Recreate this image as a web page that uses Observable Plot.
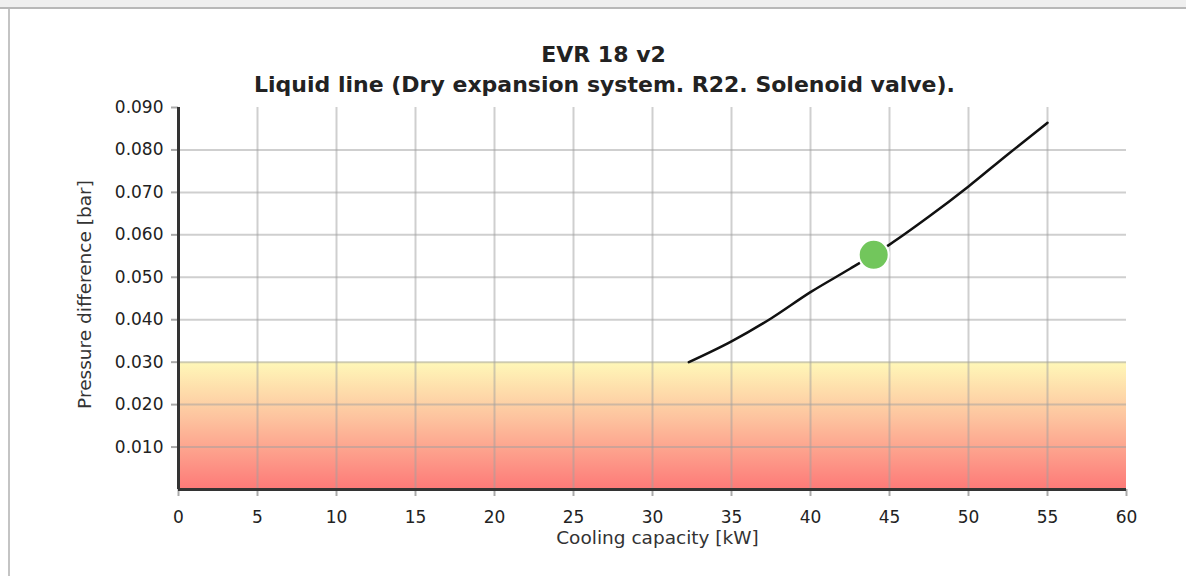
<!DOCTYPE html>
<html><head><meta charset="utf-8">
<script src="https://cdn.jsdelivr.net/npm/d3@7"></script>
<script src="https://cdn.jsdelivr.net/npm/@observablehq/plot@0.6"></script>
<style>
html,body{margin:0;padding:0;background:#fff;width:1186px;height:576px;overflow:hidden;font-family:"DejaVu Sans",Verdana,sans-serif}
#wrap{position:relative;width:1186px;height:576px}
#topbar{position:absolute;left:0;top:0;width:1186px;height:7px;background:#efefef;border-bottom:2px solid #b8b8b8}
#leftbar{position:absolute;left:8px;top:9px;width:2px;height:567px;background:#c4c4c4}
</style></head>
<body><div id="wrap"><div id="chart"></div><div id="topbar"></div><div id="leftbar"></div></div>
<script>
const title = "EVR 18 v2";
const subtitle = "Liquid line (Dry expansion system. R22. Solenoid valve).";
const xLabel = "Cooling capacity [kW]";
const yLabel = "Pressure difference [bar]";
const xTicks = [0, 5, 10, 15, 20, 25, 30, 35, 40, 45, 50, 55, 60];
const yTicks = [0.010, 0.020, 0.030, 0.040, 0.050, 0.060, 0.070, 0.080, 0.090];
const capacity = [32.3, 35, 37.5, 40, 42.5, 45, 47.5, 50, 52.5, 55];
const pressureDiff = [0.0300, 0.0349, 0.0403, 0.0465, 0.0520, 0.0577, 0.0643, 0.0714, 0.0790, 0.0864];
const pointCapacity = [44.0];
const pointPressure = [0.0553];
const bandFrom = [0.000];
const bandTo = [0.030];

const curve = capacity.map((x, i) => ({x, y: pressureDiff[i]}));
const point = pointCapacity.map((x, i) => ({x, y: pointPressure[i]}));
const band = bandFrom.map((y1, i) => ({x1: 0, x2: 60, y1, y2: bandTo[i]}));

const defs = () => {
  const d = d3.create("svg:defs");
  const g = d.append("linearGradient").attr("id", "warnGrad")
    .attr("x1", 0).attr("y1", 0).attr("x2", 0).attr("y2", 1);
  g.append("stop").attr("offset", "0%").attr("stop-color", "#fff8b8");
  g.append("stop").attr("offset", "45%").attr("stop-color", "#fdc29e");
  g.append("stop").attr("offset", "100%").attr("stop-color", "#fd7a78");
  return d.node();
};

const chart = Plot.plot({
  width: 1186,
  height: 576,
  marginLeft: 178,
  marginRight: 60,
  marginTop: 107,
  marginBottom: 87,
  style: {fontFamily: "'DejaVu Sans', Verdana, sans-serif", fontSize: "17px", color: "#222", background: "transparent"},
  x: {domain: [0, 60]},
  y: {domain: [0, 0.09]},
  marks: [
    defs,
    Plot.rect(band, {x1: "x1", x2: "x2", y1: "y1", y2: "y2", fill: "url(#warnGrad)"}),
    Plot.ruleX(xTicks.filter(d => d > 0 && d < 60), {y1: 0, y2: 0.09, stroke: "#a0a0a0", strokeOpacity: 0.5, strokeWidth: 2}),
    Plot.ruleY(yTicks.filter(d => d < 0.09), {x1: 0, x2: 60, stroke: "#a0a0a0", strokeOpacity: 0.5, strokeWidth: 2}),
    Plot.axisX(xTicks, {tickSize: 7, tickPadding: 14, stroke: "#aaa", strokeWidth: 2, label: null, fontSize: 17}),
    Plot.axisY(yTicks, {tickSize: 7, tickPadding: 8, stroke: "#aaa", strokeWidth: 2, label: null, tickFormat: d3.format(".3f"), fontSize: 17}),
    Plot.ruleX([0], {y1: 0, y2: 0.09, stroke: "#333", strokeWidth: 3}),
    Plot.ruleY([0], {x1: 0, x2: 60, stroke: "#333", strokeWidth: 3}),
    Plot.line(curve, {x: "x", y: "y", stroke: "#111", strokeWidth: 2.5, curve: "monotone-x"}),
    Plot.dot(point, {x: "x", y: "y", r: 15, fill: "#72c65c", stroke: "#fff", strokeWidth: 2}),
    Plot.text([title], {frameAnchor: "top", lineAnchor: "middle", dx: -49, dy: -53, fontWeight: "bold", fontSize: 22, fill: "#222"}),
    Plot.text([subtitle], {frameAnchor: "top", lineAnchor: "middle", dx: -48, dy: -23, fontWeight: "bold", fontSize: 22, fill: "#222"}),
    Plot.text([xLabel], {frameAnchor: "bottom", lineAnchor: "middle", dx: 5, dy: 49, fontSize: 18.5, fill: "#333"}),
    Plot.text([yLabel], {frameAnchor: "left", textAnchor: "middle", lineAnchor: "middle", rotate: -90, dx: -93, dy: -4, fontSize: 18.5, fill: "#333"})
  ]
});
document.getElementById("chart").appendChild(chart);
</script>
</body></html>
